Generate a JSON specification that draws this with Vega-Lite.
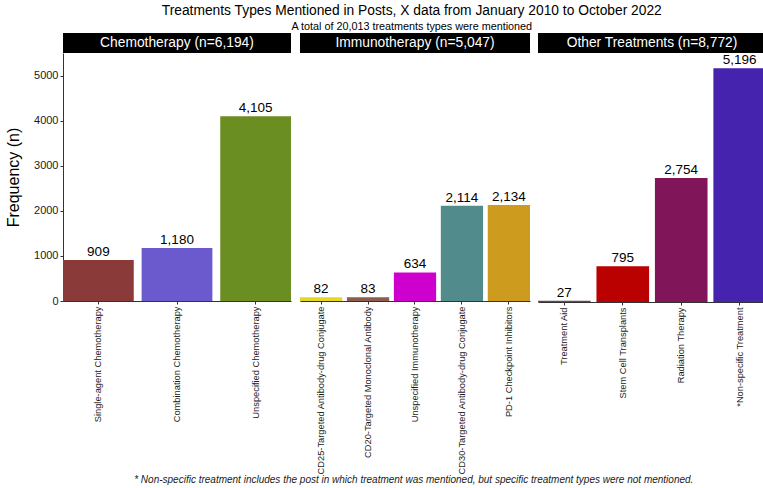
{
  "$schema": "https://vega.github.io/schema/vega-lite/v6.json",
  "background": "white",
  "padding": {"left": 5, "right": 0, "top": 4, "bottom": 0},
  "title": {
    "text": "Treatments Types Mentioned in Posts, X data from January 2010 to October 2022",
    "subtitle": "A total of 20,013 treatments types were mentioned",
    "font": "Liberation Sans",
    "fontSize": 13.8,
    "fontWeight": "normal",
    "color": "black",
    "subtitleFont": "Liberation Sans",
    "subtitleFontSize": 10.8,
    "subtitleColor": "black",
    "subtitlePadding": 3,
    "anchor": "middle",
    "dx": 26,
    "offset": 1
  },
  "datasets": {
    "treatments": [
      {"group": "Chemotherapy", "treatment": "Single-agent Chemotherapy", "n": 909, "order": 1},
      {"group": "Chemotherapy", "treatment": "Combination Chemotherapy", "n": 1180, "order": 2},
      {"group": "Chemotherapy", "treatment": "Unspecified Chemotherapy", "n": 4105, "order": 3},
      {"group": "Immunotherapy", "treatment": "CD25-Targeted Antibody-drug Conjugate", "n": 82, "order": 4},
      {"group": "Immunotherapy", "treatment": "CD20-Targeted Monoclonal Antibody", "n": 83, "order": 5},
      {"group": "Immunotherapy", "treatment": "Unspecified Immunotherapy", "n": 634, "order": 6},
      {"group": "Immunotherapy", "treatment": "CD30-Targeted Antibody-drug Conjugate", "n": 2114, "order": 7},
      {"group": "Immunotherapy", "treatment": "PD-1 Checkpoint Inhibitors", "n": 2134, "order": 8},
      {"group": "Other", "treatment": "Treatment Aid", "n": 27, "order": 9},
      {"group": "Other", "treatment": "Stem Cell Transplants", "n": 795, "order": 10},
      {"group": "Other", "treatment": "Radiation Therapy", "n": 2754, "order": 11},
      {"group": "Other", "treatment": "*Non-specific Treatment", "n": 5196, "order": 12}
    ],
    "groups": [
      {"group": "Chemotherapy", "label": "Chemotherapy (n=6,194)"},
      {"group": "Immunotherapy", "label": "Immunotherapy (n=5,047)"},
      {"group": "Other", "label": "Other Treatments (n=8,772)"}
    ]
  },
  "config": {
    "font": "Liberation Sans",
    "view": {"stroke": null},
    "concat": {"spacing": 8},
    "axis": {
      "labelFont": "Liberation Sans",
      "titleFont": "Liberation Sans",
      "labelColor": "#1a1a1a",
      "tickColor": "#333333",
      "domainColor": "#333333",
      "grid": false
    }
  },
  "vconcat": [
    {
      "title": {
        "text": "*  Non-specific treatment includes the post in which treatment was mentioned, but specific treatment types were not mentioned.",
        "orient": "bottom",
        "anchor": "middle",
        "font": "Liberation Sans",
        "fontSize": 10,
        "fontStyle": "italic",
        "fontWeight": "normal",
        "color": "#1a1a1a",
        "offset": 1,
        "dx": 28
      },
      "hconcat": [
        {
          "spacing": 0,
          "vconcat": [
            {
              "width": 228, "height": 20,
              "data": {"name": "groups"},
              "transform": [{"filter": "datum.group == 'Chemotherapy'"}],
              "layer": [
                {"mark": {"type": "bar", "color": "black"},
                 "encoding": {"x": {"field": "group", "type": "nominal", "axis": null, "scale": {"paddingInner": 0, "paddingOuter": 0}}}},
                {"mark": {"type": "text", "color": "white", "fontSize": 13.8, "baseline": "middle"},
                 "encoding": {"x": {"field": "group", "type": "nominal", "axis": null}, "text": {"field": "label"}}}
              ]
            },
            {
              "width": 228, "height": 248,
              "data": {"name": "treatments"},
              "transform": [{"filter": "datum.group == 'Chemotherapy'"}],
              "encoding": {
                "x": {"field": "treatment", "type": "nominal", "sort": {"field": "order"},
                      "scale": {"paddingInner": 0.1, "paddingOuter": 0},
                      "axis": {"title": null, "labelAngle": -90, "labelFontSize": 9.3, "tickSize": 3, "labelPadding": 2, "labelLimit": 300}},
                "y": {"field": "n", "type": "quantitative",
                      "scale": {"domain": [0, 5510], "nice": false},
                      "axis": {"title": "Frequency (n)", "titleFontSize": 16, "titleFontWeight": "normal", "titleColor": "black", "values": [0, 1000, 2000, 3000, 4000, 5000], "format": "d", "labelFontSize": 11, "tickSize": 3, "titlePadding": 12}}
              },
              "layer": [
                {"mark": {"type": "bar"},
                 "encoding": {"color": {"field": "treatment", "type": "nominal", "legend": null,
                   "scale": {"domain": ["Single-agent Chemotherapy", "Combination Chemotherapy", "Unspecified Chemotherapy"], "range": ["#8B3A3A", "#6A5ACD", "#6B8E23"]}}}},
                {"mark": {"type": "text", "baseline": "bottom", "dy": -1, "fontSize": 13.5, "color": "black"},
                 "encoding": {"text": {"field": "n", "type": "quantitative", "format": ","}}}
              ]
            }
          ]
        },
        {
          "spacing": 0,
          "vconcat": [
            {
              "width": 230, "height": 20,
              "data": {"name": "groups"},
              "transform": [{"filter": "datum.group == 'Immunotherapy'"}],
              "layer": [
                {"mark": {"type": "bar", "color": "black"},
                 "encoding": {"x": {"field": "group", "type": "nominal", "axis": null, "scale": {"paddingInner": 0, "paddingOuter": 0}}}},
                {"mark": {"type": "text", "color": "white", "fontSize": 13.8, "baseline": "middle"},
                 "encoding": {"x": {"field": "group", "type": "nominal", "axis": null}, "text": {"field": "label"}}}
              ]
            },
            {
              "width": 230, "height": 248,
              "data": {"name": "treatments"},
              "transform": [{"filter": "datum.group == 'Immunotherapy'"}],
              "encoding": {
                "x": {"field": "treatment", "type": "nominal", "sort": {"field": "order"},
                      "scale": {"paddingInner": 0.1, "paddingOuter": 0},
                      "axis": {"title": null, "labelAngle": -90, "labelFontSize": 9.3, "tickSize": 3, "labelPadding": 2, "labelLimit": 300}},
                "y": {"field": "n", "type": "quantitative",
                      "scale": {"domain": [0, 5510], "nice": false}, "axis": null}
              },
              "layer": [
                {"mark": {"type": "bar"},
                 "encoding": {"color": {"field": "treatment", "type": "nominal", "legend": null,
                   "scale": {"domain": ["CD25-Targeted Antibody-drug Conjugate", "CD20-Targeted Monoclonal Antibody", "Unspecified Immunotherapy", "CD30-Targeted Antibody-drug Conjugate", "PD-1 Checkpoint Inhibitors"],
                             "range": ["#E6D723", "#8C5E4F", "#CD00CD", "#528B8B", "#CD9B1D"]}}}},
                {"mark": {"type": "text", "baseline": "bottom", "dy": -1, "fontSize": 13.5, "color": "black"},
                 "encoding": {"text": {"field": "n", "type": "quantitative", "format": ","}}}
              ]
            }
          ]
        },
        {
          "spacing": 0,
          "vconcat": [
            {
              "width": 228, "height": 20,
              "data": {"name": "groups"},
              "transform": [{"filter": "datum.group == 'Other'"}],
              "layer": [
                {"mark": {"type": "bar", "color": "black"},
                 "encoding": {"x": {"field": "group", "type": "nominal", "axis": null, "scale": {"paddingInner": 0, "paddingOuter": 0}}}},
                {"mark": {"type": "text", "color": "white", "fontSize": 13.8, "baseline": "middle"},
                 "encoding": {"x": {"field": "group", "type": "nominal", "axis": null}, "text": {"field": "label"}}}
              ]
            },
            {
              "width": 228, "height": 248,
              "data": {"name": "treatments"},
              "transform": [{"filter": "datum.group == 'Other'"}],
              "encoding": {
                "x": {"field": "treatment", "type": "nominal", "sort": {"field": "order"},
                      "scale": {"paddingInner": 0.1, "paddingOuter": 0},
                      "axis": {"title": null, "labelAngle": -90, "labelFontSize": 9.3, "tickSize": 3, "labelPadding": 2, "labelLimit": 300}},
                "y": {"field": "n", "type": "quantitative",
                      "scale": {"domain": [0, 5510], "nice": false}, "axis": null}
              },
              "layer": [
                {"mark": {"type": "bar"},
                 "encoding": {"color": {"field": "treatment", "type": "nominal", "legend": null,
                   "scale": {"domain": ["Treatment Aid", "Stem Cell Transplants", "Radiation Therapy", "*Non-specific Treatment"],
                             "range": ["#70405F", "#BB0000", "#80155A", "#4523AF"]}}}},
                {"mark": {"type": "text", "baseline": "bottom", "dy": -1, "fontSize": 13.5, "color": "black"},
                 "encoding": {"text": {"field": "n", "type": "quantitative", "format": ","}}}
              ]
            }
          ]
        }
      ],
      "resolve": {"scale": {"x": "independent", "color": "independent"}}
    }
  ]
}
